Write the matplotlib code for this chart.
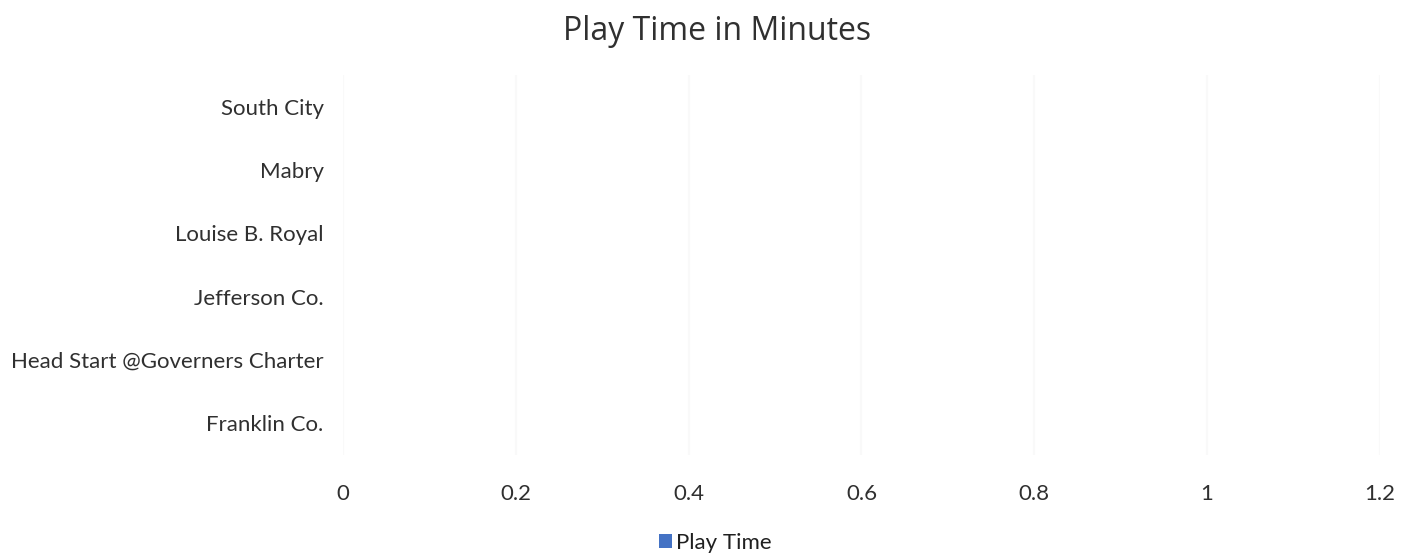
import matplotlib.pyplot as plt
from matplotlib.ticker import FuncFormatter

# Play time per site (minutes)
sites = ['Franklin Co.', 'Head Start @Governers Charter', 'Jefferson Co.',
         'Louise B. Royal', 'Mabry', 'South City']
play_time = [0, 0, 0, 0, 0, 0]
x_ticks = [0, 0.2, 0.4, 0.6, 0.8, 1.0, 1.2]

plt.rcParams['font.family'] = ['Lato', 'DejaVu Sans']

fig = plt.figure(figsize=(14.11, 5.55), dpi=100)
ax = fig.add_axes([0.2431, 0.18, 0.7349, 0.685])

ax.barh(sites, play_time, height=0.6, color='#4472C4', label='Play Time')

ax.set_xlim(0, 1.2)
ax.set_ylim(-0.5, len(sites) - 0.5)
ax.set_xticks(x_ticks)
ax.xaxis.set_major_formatter(FuncFormatter(lambda v, p: f'{v:g}'))
ax.grid(axis='x', color='#f9f9f9', linewidth=1.5)
ax.set_axisbelow(True)

for s in ax.spines.values():
    s.set_visible(False)
ax.tick_params(axis='both', length=0, colors='#303030', labelsize=16)
ax.tick_params(axis='x', pad=21)
ax.tick_params(axis='y', pad=14)

fig.text(0.508, 0.944, 'Play Time in Minutes', ha='center', va='center',
         fontsize=23, color='#303030', family=['Open Sans', 'DejaVu Sans'])

fig.legend(loc='center', bbox_to_anchor=(0.507, 0.022), frameon=False,
           fontsize=16, handlelength=0.6, handleheight=0.6, handletextpad=0.2,
           labelcolor='#202020')

fig.savefig('out.png', dpi=100)
